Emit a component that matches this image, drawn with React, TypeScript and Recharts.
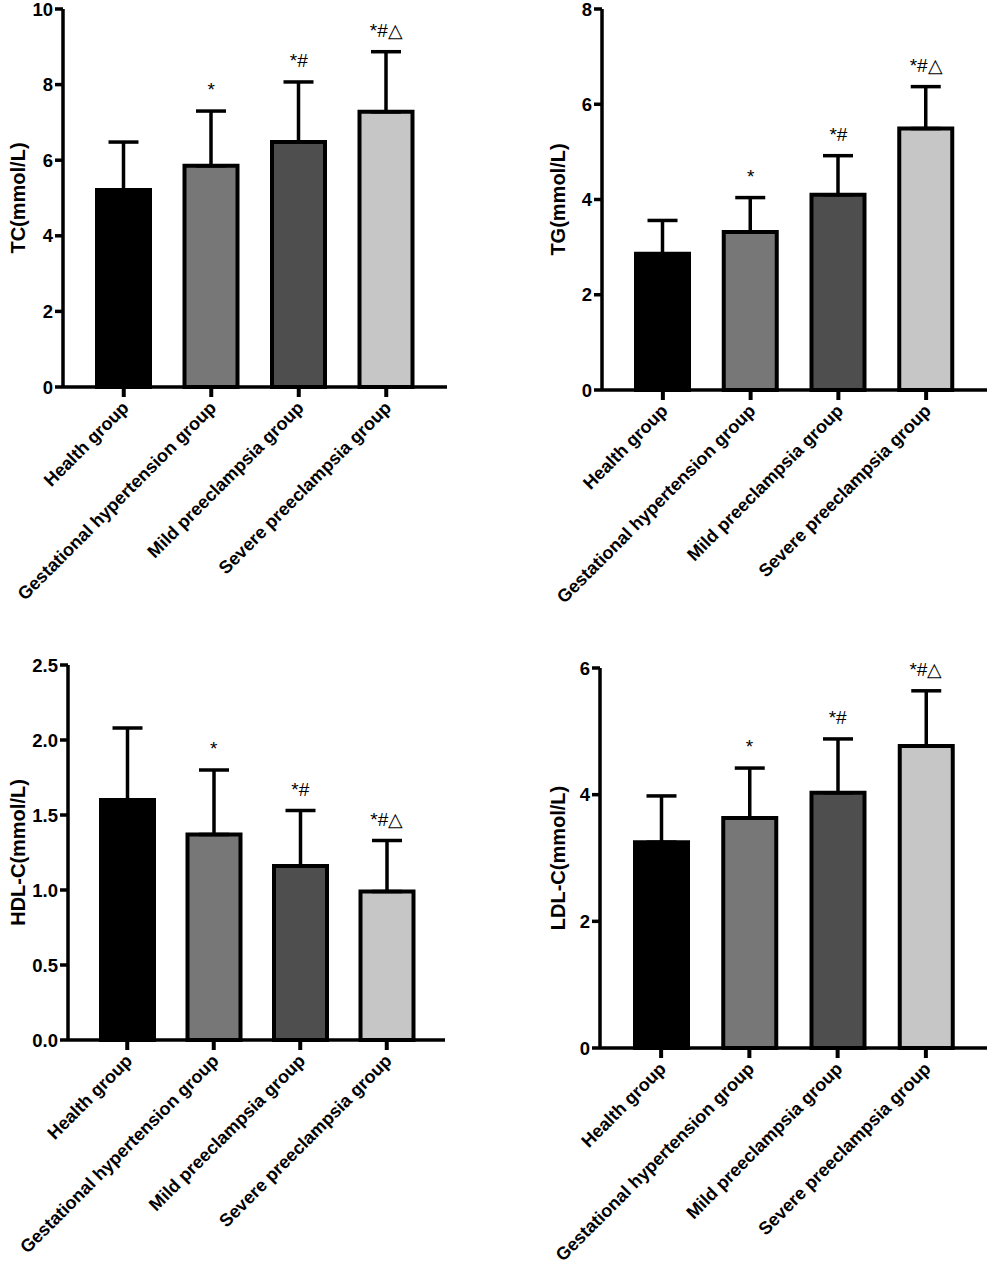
import React from 'react';
import { ComposedChart, Bar, Line, XAxis, YAxis, ErrorBar, Cell, LabelList } from 'recharts';

const categories = [
  'Health group',
  'Gestational hypertension group',
  'Mild preeclampsia group',
  'Severe preeclampsia group',
];
const barColors = ['#000000', '#777777', '#4e4e4e', '#c6c6c6'];
const sigMarks = ['', '*', '*#', '*#\u25B3'];

const tcMean = [5.21, 5.85, 6.48, 7.28];
const tcSD = [1.27, 1.45, 1.59, 1.59];
const tcTicks = [0, 2, 4, 6, 8, 10];

const tgMean = [2.86, 3.32, 4.1, 5.49];
const tgSD = [0.7, 0.72, 0.82, 0.88];
const tgTicks = [0, 2, 4, 6, 8];

const hdlMean = [1.6, 1.37, 1.16, 0.99];
const hdlSD = [0.48, 0.43, 0.37, 0.34];
const hdlTicks = [0, 0.5, 1.0, 1.5, 2.0, 2.5];

const ldlMean = [3.25, 3.63, 4.03, 4.77];
const ldlSD = [0.73, 0.79, 0.85, 0.87];
const ldlTicks = [0, 2, 4, 6];

const FONT = "'Liberation Sans', Arial, Helvetica, sans-serif";

function buildRows(mean: number[], sd: number[]) {
  return categories.map((c, i) => ({
    name: c,
    mean: mean[i],
    err: [0, sd[i]],
    top: mean[i] + sd[i],
    sig: sigMarks[i],
  }));
}

const XTick = (props: any) => {
  const { x, y, payload } = props;
  return (
    <g transform={`translate(${x + 6},${y + 10})`}>
      <text
        transform="rotate(-45)"
        textAnchor="end"
        fill="#000"
        fontSize={18}
        fontWeight={700}
        fontFamily={FONT}
      >
        {payload.value}
      </text>
    </g>
  );
};

const YLabel = (props: any) => {
  const { viewBox, text, dist } = props;
  const cx = viewBox.x + viewBox.width - dist;
  const cy = viewBox.y + viewBox.height / 2;
  return (
    <text
      x={cx}
      y={cy}
      transform={`rotate(-90, ${cx}, ${cy})`}
      textAnchor="middle"
      dominantBaseline="central"
      fill="#000"
      fontSize={20}
      fontWeight={700}
      fontFamily={FONT}
    >
      {text}
    </text>
  );
};

type PanelProps = {
  left: number;
  top: number;
  height: number;
  axisX: number;
  plotTop: number;
  plotBottom: number;
  axisEnd: number;
  padL: number;
  padR: number;
  mean: number[];
  sd: number[];
  ticks: number[];
  label: string;
  labelDist: number;
  decimals: number;
};

const Panel = (p: PanelProps) => {
  const rows = buildRows(p.mean, p.sd);
  const width = p.axisEnd - p.left + 6;
  const yAxisWidth = p.axisX - p.left;
  const xAxisHeight = p.top + p.height - p.plotBottom;
  return (
    <div style={{ position: 'absolute', left: p.left, top: p.top }}>
      <ComposedChart
        width={width}
        height={p.height}
        data={rows}
        margin={{ top: p.plotTop - p.top, right: 6, left: 0, bottom: 0 }}
        barCategoryGap="0%"
      >
        <XAxis
          dataKey="name"
          type="category"
          interval={0}
          height={xAxisHeight}
          padding={{ left: p.padL, right: p.padR }}
          axisLine={{ stroke: '#000', strokeWidth: 3.5 }}
          tickLine={{ stroke: '#000', strokeWidth: 4 }}
          tickSize={10}
          tickMargin={2}
          tick={<XTick />}
        />
        <YAxis
          type="number"
          domain={[p.ticks[0], p.ticks[p.ticks.length - 1]]}
          ticks={p.ticks}
          interval={0}
          width={yAxisWidth}
          axisLine={{ stroke: '#000', strokeWidth: 3.5 }}
          tickLine={{ stroke: '#000', strokeWidth: 3.5 }}
          tickSize={8}
          tickMargin={2}
          tickFormatter={(v: number) => v.toFixed(p.decimals)}
          tick={{ fill: '#000', fontSize: 18.5, fontWeight: 700, fontFamily: FONT }}
          label={<YLabel text={p.label} dist={p.labelDist} />}
        />
        <Bar
          dataKey="mean"
          barSize={53}
          stroke="#000"
          strokeWidth={4}
          isAnimationActive={false}
        >
          {rows.map((r, i) => (
            <Cell key={r.name} fill={barColors[i]} />
          ))}
          <ErrorBar
            dataKey="err"
            direction="y"
            width={15}
            stroke="#000"
            strokeWidth={3.5}
            isAnimationActive={false}
          />
        </Bar>
        <Line
          dataKey="top"
          stroke="none"
          dot={false}
          activeDot={false}
          legendType="none"
          isAnimationActive={false}
        >
          <LabelList
            dataKey="sig"
            position="top"
            offset={15}
            fill="#000"
            fontSize={19}
            fontFamily={FONT}
          />
        </Line>
      </ComposedChart>
    </div>
  );
};

export default function App() {
  return (
    <div
      style={{
        position: 'absolute',
        left: 0,
        top: 0,
        width: 996,
        height: 1275,
        background: '#fff',
        overflow: 'hidden',
      }}
    >
      <Panel
        left={0}
        top={0}
        height={640}
        axisX={63}
        plotTop={9}
        plotBottom={387}
        axisEnd={447}
        padL={17}
        padR={17}
        mean={tcMean}
        sd={tcSD}
        ticks={tcTicks}
        label="TC(mmol/L)"
        labelDist={45}
        decimals={0}
      />
      <Panel
        left={540}
        top={0}
        height={640}
        axisX={602}
        plotTop={9}
        plotBottom={390}
        axisEnd={987}
        padL={17}
        padR={17}
        mean={tgMean}
        sd={tgSD}
        ticks={tgTicks}
        label="TG(mmol/L)"
        labelDist={44}
        decimals={0}
      />
      <Panel
        left={0}
        top={640}
        height={635}
        axisX={68}
        plotTop={665}
        plotBottom={1040}
        axisEnd={445}
        padL={16}
        padR={15}
        mean={hdlMean}
        sd={hdlSD}
        ticks={hdlTicks}
        label="HDL-C(mmol/L)"
        labelDist={50}
        decimals={1}
      />
      <Panel
        left={540}
        top={640}
        height={635}
        axisX={600}
        plotTop={668}
        plotBottom={1048}
        axisEnd={987}
        padL={17}
        padR={17}
        mean={ldlMean}
        sd={ldlSD}
        ticks={ldlTicks}
        label="LDL-C(mmol/L)"
        labelDist={42}
        decimals={0}
      />
    </div>
  );
}
